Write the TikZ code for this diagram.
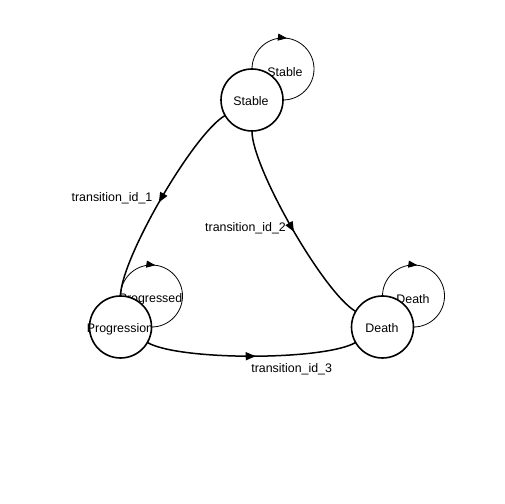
\documentclass[tikz,border=0pt]{standalone}
\usepackage{fontspec}
\setmainfont{Liberation Sans}
\usetikzlibrary{arrows.meta,decorations.markings}
\pgfdeclarelayer{paper}
\pgfdeclarelayer{bg}
\pgfsetlayers{paper,bg,main}
\begin{document}
\begin{tikzpicture}[x=1bp,y=1bp,
  state/.style={circle,draw=black,line width=1.6bp,fill=white,minimum size=62bp,inner sep=0pt,outer sep=0pt},
  txt/.style={font=\fontsize{12.4bp}{14bp}\selectfont,inner sep=0pt,text=black},
  edgeline/.style={line width=1.5bp,postaction={decorate},decoration={markings,mark=at position 0.52 with {\arrow{Triangle[length=10bp,width=8bp]}}}},
  loopline/.style={line width=0.8bp,postaction={decorate},decoration={markings,mark=at position 0.36 with {\arrow{Triangle[length=9bp,width=7bp]}}}},
  curved/.style={bend right=30,looseness=0.45}
]
\begin{pgfonlayer}{paper}
\fill[white] (0,0) rectangle (504,504);
\end{pgfonlayer}
\useasboundingbox (0,0) rectangle (504,504);

% states
\node[state] (S) at (252,404) {};
\node[state] (P) at (120.5,177) {};
\node[state] (D) at (382.5,177) {};
\node[txt] (St) at (251,403) {Stable};
\node[txt] (Pt) at (120,175) {Progression};
\node[txt] (Dt) at (382,176) {Death};

\begin{pgfonlayer}{bg}
% transitions
\draw[edgeline,curved] (S) to (P);
\draw[edgeline,curved] (S) to (D);
\draw[edgeline,curved] (P) to (D);
\node[txt] (l1) at (112,305.5) {transition\_id\_1};
\node[txt] (l2) at (245.5,275.5) {transition\_id\_2};
\node[txt] (l3) at (291.7,134.5) {transition\_id\_3};
% self loops
\draw[loopline] (S.north) arc[start angle=180,end angle=-90,radius=31];
\draw[loopline] (P.north) arc[start angle=180,end angle=-90,radius=31];
\draw[loopline] (D.north) arc[start angle=180,end angle=-90,radius=31];
\node[txt] (ls) at (285,432) {Stable};
\node[txt] (lp) at (150.5,205) {Progressed};
\node[txt] (ld) at (413,205) {Death};
\end{pgfonlayer}
\end{tikzpicture}
\end{document}
